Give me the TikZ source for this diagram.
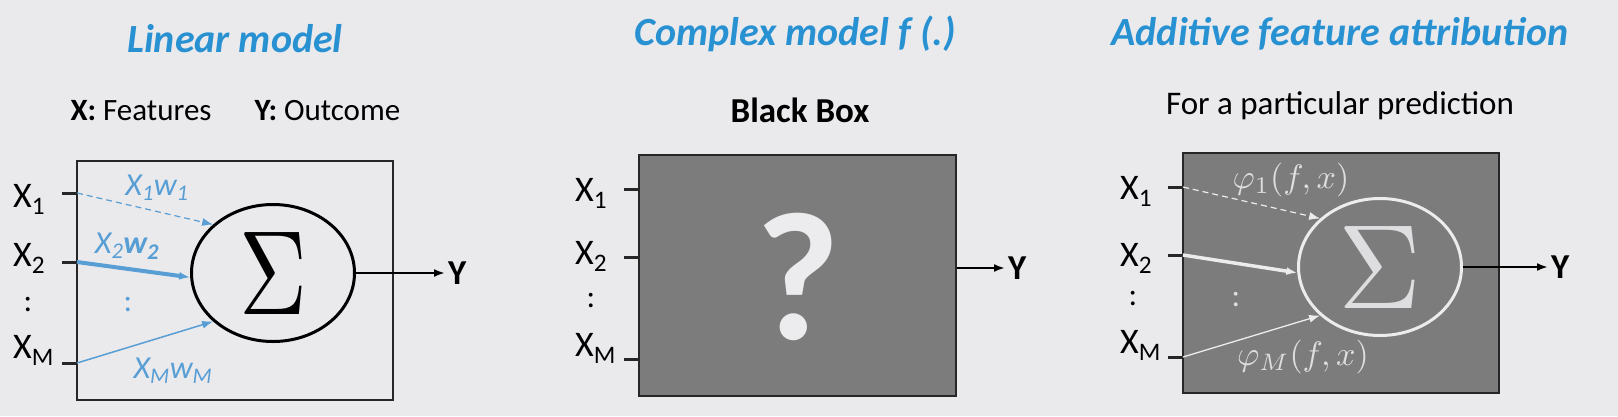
\documentclass[tikz,border=0pt]{standalone}
\usepackage{amsmath}
\usepackage{graphicx}
\usepackage{fontspec}
\setmainfont{Carlito}
\usepackage{xcolor}
\usepackage{tikz}
\usetikzlibrary{arrows.meta,shapes.geometric}
\definecolor{BackGray}{RGB}{234,234,237}
\definecolor{TitleBlue}{RGB}{40,145,210}
\definecolor{WeightBlue}{RGB}{88,158,212}
\definecolor{BoxGray}{RGB}{124,124,124}
\definecolor{SoftWhite}{RGB}{236,236,238}
\definecolor{SoftGray}{RGB}{222,222,224}

\begin{document}
\begin{tikzpicture}[x=1pt,y=-1pt,>={Latex[length=11pt,width=8pt]},
  headline/.style={font=\fontsize{40}{44}\selectfont\bfseries\itshape,text=TitleBlue,anchor=base},
  subline/.style={font=\fontsize{31}{34}\selectfont,anchor=base},
  inlabel/.style={font=\fontsize{36}{38}\selectfont,anchor=base west,inner sep=0pt},
  dotsmark/.style={font=\fontsize{32}{34}\selectfont,inner sep=0pt},
  intick/.style={line width=3pt,draw=black!85},
  panelbox/.style={draw=black!85,line width=2pt,minimum width=316pt,minimum height=240pt,inner sep=0pt},
  sumnode/.style={ellipse,minimum width=163pt,minimum height=137pt,line width=3pt,inner sep=0pt},
  outlabel/.style={font=\fontsize{35}{37}\selectfont\bfseries,anchor=west,inner sep=3pt},
  outarrow/.style={->,line width=2.5pt},
  longdash/.style={dash pattern=on 6pt off 4pt},
  weightlbl/.style={font=\fontsize{32}{34}\selectfont\itshape,text=WeightBlue,anchor=base},
  shaplbl/.style={text=SoftGray,anchor=base,inner sep=0pt}]
  \fill[BackGray] (0,0) rectangle (1618,416);
  \useasboundingbox (0,0) rectangle (1618,416);

  % titles
  \node[headline] (tlin) at (235,52) {Linear model};
  \node[headline] (tcom) at (795,45) {Complex model f (.)};
  \node[headline] (tadd) at (1340,45) {Additive feature attribution};
  \node[subline,anchor=base west] (feat) at (67,120) {\textbf{X:} Features};
  \node[subline,anchor=base west] (outc) at (251,120) {\textbf{Y:} Outcome};
  \node[subline,font=\fontsize{35}{38}\selectfont\bfseries] (bbox-t) at (800,122) {Black Box};
  \node[subline,font=\fontsize{33}{36}\selectfont] (pred) at (1340,114) {For a particular prediction};

  % linear model
  \node[panelbox,minimum height=239pt] (lbox) at (235,280.5) {};
  \coordinate (l1) at (77,193);
  \coordinate (l2) at (77,262);
  \coordinate (lm) at (77,363);
  \node[inlabel] (lx1) at (13,207) {X$_\text{1}$};
  \node[inlabel] (lx2) at (13,266) {X$_\text{2}$};
  \node[dotsmark] (ldots) at (28,305) {:};
  \node[inlabel] (lxm) at (13,358) {X$_\text{M}$};
  \draw[intick] (l1) -- ++(-15,0);
  \draw[intick] (l2) -- ++(-15,0);
  \draw[intick] (lm) -- ++(-15,0);
  \node[sumnode,draw] (lsum) at (273,273) {\scalebox{9.4}[12.0]{$\Sigma$}};
  \draw[->,WeightBlue,line width=1.2pt,longdash] (l1) -- (lsum.141);
  \draw[->,WeightBlue,line width=4pt] (l2) -- (lsum.183);
  \draw[->,WeightBlue,line width=1.5pt] (lm) -- (lsum.219);
  \node[weightlbl] (w1) at (157,195) {X$_\text{1}$w$_\text{1}$};
  \node[weightlbl] (w2) at (127,253) {X$_\text{2}$\textbf{w$_\text{2}$}};
  \node[weightlbl] (wm) at (173,378) {X$_\text{M}$w$_\text{M}$};
  \node[dotsmark,text=WeightBlue] (wdots) at (128,305) {:};
  \node[outlabel] (ly) at (445,273) {Y};
  \draw[outarrow] (lsum.east) -- (ly.west);

  % black box
  \node[panelbox,fill=BoxGray,minimum width=317pt,minimum height=241pt] (bbox) at (797.5,275.5) {};
  \node[font=\fontsize{183}{183}\selectfont\bfseries,text=SoftWhite,inner sep=0pt] (qmark) at (798,277) {?};
  \coordinate (m1) at (639,189);
  \coordinate (m2) at (639,257);
  \coordinate (mm) at (639,359);
  \node[inlabel] (mx1) at (575,201) {X$_\text{1}$};
  \node[inlabel] (mx2) at (575,264) {X$_\text{2}$};
  \node[dotsmark] (mdots) at (591,301) {:};
  \node[inlabel] (mxm) at (575,356) {X$_\text{M}$};
  \draw[intick] (m1) -- ++(-15,0);
  \draw[intick] (m2) -- ++(-15,0);
  \draw[intick] (mm) -- ++(-15,0);
  \node[outlabel] (my) at (1005,268) {Y};
  \draw[outarrow] (my.west -| bbox.east) -- (my.west);

  % additive attribution
  \node[panelbox,fill=BoxGray] (rbox) at (1341,273) {};
  \coordinate (r1) at (1183,187);
  \coordinate (r2) at (1183,255);
  \coordinate (rm) at (1183,357);
  \node[inlabel] (rx1) at (1120,199) {X$_\text{1}$};
  \node[inlabel] (rx2) at (1120,266) {X$_\text{2}$};
  \node[dotsmark] (rdots) at (1133,299) {:};
  \node[inlabel] (rxm) at (1120,353) {X$_\text{M}$};
  \draw[intick] (r1) -- ++(-15,0);
  \draw[intick] (r2) -- ++(-15,0);
  \draw[intick] (rm) -- ++(-15,0);
  \node[sumnode,draw=SoftWhite,text=SoftGray] (rsum) at (1380,267) {\scalebox{11.5}[12.0]{$\Sigma$}};
  \draw[->,SoftWhite,line width=1.2pt,longdash] (r1) -- (rsum.141);
  \draw[->,SoftWhite,line width=3.5pt] (r2) -- (rsum.184);
  \draw[->,SoftWhite,line width=1.3pt] (rm) -- (rsum.219);
  \node[shaplbl] (phi1) at (1291,188) {\scalebox{3.4}{$\varphi_1(f,x)$}};
  \node[shaplbl] (phim) at (1303,365) {\scalebox{3.4}{$\varphi_M(f,x)$}};
  \node[dotsmark,text=SoftGray] (rdots2) at (1236,300) {:};
  \node[outlabel] (ry) at (1548,267) {Y};
  \draw[outarrow] (rsum.east) -- (ry.west);
\end{tikzpicture}
\end{document}
